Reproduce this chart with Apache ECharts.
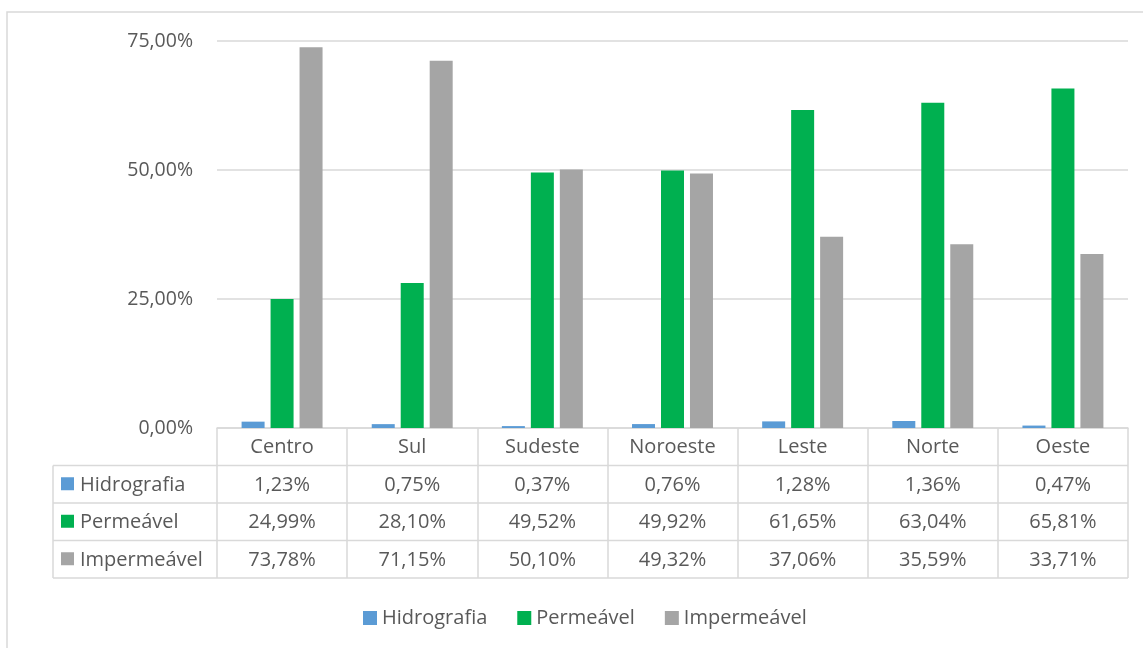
<!DOCTYPE html>
<html><head><meta charset="utf-8">
<script src="https://cdn.jsdelivr.net/npm/echarts@6/dist/echarts.min.js"></script>
<style>html,body{margin:0;padding:0;background:#fff}#c{width:1143px;height:648px}</style>
</head><body><div id="c"></div>
<script>
const categories = ['Centro','Sul','Sudeste','Noroeste','Leste','Norte','Oeste'];
const hidrografia = [1.23,0.75,0.37,0.76,1.28,1.36,0.47];
const permeavel = [24.99,28.10,49.52,49.92,61.65,63.04,65.81];
const impermeavel = [73.78,71.15,50.10,49.32,37.06,35.59,33.71];
const seriesNames = ['Hidrografia','Permeável','Impermeável'];
const yTicks = [0,25,50,75];
const colors = ['#5B9BD5','#00B050','#A5A5A5'];
const FONT = 'Open Sans';
const FS = 20;
const TXT = '#595959';
const LINE = '#D9D9D9';
const ROW = 37.5;
const fmt = v => v.toFixed(2).replace('.', ',') + '%';
const seriesData = [hidrografia, permeavel, impermeavel];

const chart = echarts.init(document.getElementById('c'));
const option = {
  animation:false,
  textStyle:{fontFamily:FONT},
  grid:{left:217,right:15,top:41,bottom:220,containLabel:false},
  legend:{
    data:seriesNames, top:603, left:358, itemWidth:14, itemHeight:14, itemGap:30, icon:'rect',
    textStyle:{fontFamily:FONT,fontSize:FS,color:TXT,padding:[0,0,0,0]}
  },
  xAxis:{
    type:'category', data:categories,
    axisLine:{lineStyle:{color:LINE,width:1.5}},
    axisTick:{show:true,length:ROW*4,lineStyle:{color:LINE,width:1.5}},
    axisLabel:{
      interval:0, margin:1, fontFamily:FONT, fontSize:FS, color:TXT, lineHeight:ROW,
      formatter:(v,i)=>[v, fmt(hidrografia[i]), fmt(permeavel[i]), fmt(impermeavel[i])].join('\n')
    }
  },
  yAxis:{
    type:'value', min:0, max:75, interval:25,
    axisLine:{show:false}, axisTick:{show:false},
    splitLine:{lineStyle:{color:LINE,width:1.5}},
    axisLabel:{fontFamily:FONT,fontSize:19.5,color:TXT,margin:24,formatter:v=>fmt(v)}
  },
  series: seriesNames.map((n,k)=>({
    name:n, type:'bar', data:seriesData[k], barWidth:23, barGap:'26%',
    itemStyle:{color:colors[k]}
  }))
};
chart.setOption(option);

const y0 = chart.convertToPixel({yAxisIndex:0}, 0);
const xL = 217, xR = 1143-15, xT = 53;
const g = [];
g.push({type:'rect', shape:{x:7,y:12,width:1200,height:700}, style:{fill:'none',stroke:LINE,lineWidth:1.5}, z:0});
for (let r=1;r<=4;r++){
  const y = y0 + ROW*r;
  g.push({type:'line', shape:{x1:xT,y1:y,x2:xR,y2:y}, style:{stroke:LINE,lineWidth:1.5}});
}
g.push({type:'line', shape:{x1:xT,y1:y0+ROW,x2:xT,y2:y0+ROW*4}, style:{stroke:LINE,lineWidth:1.5}});
seriesNames.forEach((n,k)=>{
  const yc = y0 + ROW*(k+1) + ROW/2;
  g.push({type:'rect', shape:{x:61,y:yc-7,width:13,height:13}, style:{fill:colors[k]}});
  g.push({type:'text', x:80, y:yc+1, style:{text:n, fontFamily:FONT, fontSize:FS, fill:TXT, verticalAlign:'middle', align:'left'}});
});
chart.setOption({graphic:g});
</script></body></html>
